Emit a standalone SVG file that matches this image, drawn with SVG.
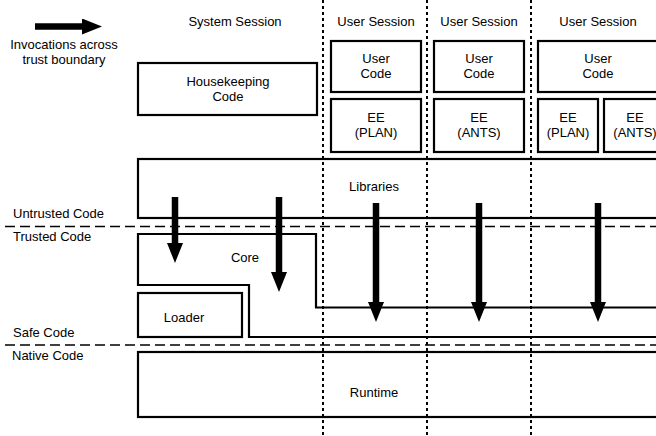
<svg xmlns="http://www.w3.org/2000/svg" width="656" height="436" viewBox="0 0 656 436">
<defs>
<style>
.bg{fill:#ffffff}
.box{fill:none;stroke:#000;stroke-width:2.2}
.dash{fill:none;stroke:#000;stroke-width:1.6;stroke-dasharray:10 5}
.dot{fill:none;stroke:#000;stroke-width:2;stroke-dasharray:3 3}
.arr{fill:none;stroke:#000;stroke-width:6.5;marker-end:url(#head)}
text{font-family:"Liberation Sans",Arial,sans-serif;font-size:13px;fill:#000}
.c{text-anchor:middle}
</style>
<marker id="head" viewBox="0 -8 20 16" refX="0" refY="0" markerWidth="20" markerHeight="16" markerUnits="userSpaceOnUse" orient="auto">
<path d="M0,-8 L20,0 L0,8 Z" fill="#000"/>
</marker>
</defs>
<rect class="bg" x="0" y="0" width="656" height="436"/>

<g id="labels">
<text class="c" x="64" y="49">Invocations across</text>
<text class="c" x="64" y="64">trust boundary</text>
<text class="c" x="235" y="26">System Session</text>
<text class="c" x="376" y="26">User Session</text>
<text class="c" x="479" y="26">User Session</text>
<text class="c" x="598" y="26">User Session</text>
<text x="13" y="218">Untrusted Code</text>
<text x="13" y="241">Trusted Code</text>
<text x="13" y="337">Safe Code</text>
<text x="12" y="360">Native Code</text>
</g>

<g id="boundaries">
<line class="dash" x1="5" y1="226.5" x2="656" y2="226.5"/>
<line class="dash" x1="5" y1="345" x2="656" y2="345"/>
</g>

<g id="housekeeping">
<rect class="box" x="138" y="63" width="179" height="52"/>
<text class="c" x="228" y="86">Housekeeping</text>
<text class="c" x="228" y="101">Code</text>
</g>

<g id="usercode1">
<rect class="box" x="331" y="41" width="90" height="51"/>
<text class="c" x="376" y="63">User</text>
<text class="c" x="376" y="78">Code</text>
</g>
<g id="usercode2">
<rect class="box" x="434" y="41" width="90" height="51"/>
<text class="c" x="479" y="63">User</text>
<text class="c" x="479" y="78">Code</text>
</g>
<g id="usercode3">
<rect class="box" x="538" y="41" width="130" height="51"/>
<text class="c" x="598" y="63">User</text>
<text class="c" x="598" y="78">Code</text>
</g>

<g id="ee1">
<rect class="box" x="331" y="99" width="90" height="53"/>
<text class="c" x="376" y="122">EE</text>
<text class="c" x="376" y="137">(PLAN)</text>
</g>
<g id="ee2">
<rect class="box" x="434" y="99" width="90" height="53"/>
<text class="c" x="479" y="122">EE</text>
<text class="c" x="479" y="137">(ANTS)</text>
</g>
<g id="ee3">
<rect class="box" x="538" y="99" width="60" height="53"/>
<text class="c" x="568" y="122">EE</text>
<text class="c" x="568" y="137">(PLAN)</text>
</g>
<g id="ee4">
<rect class="box" x="604" y="99" width="62" height="53"/>
<text class="c" x="635" y="122">EE</text>
<text class="c" x="635" y="137">(ANTS)</text>
</g>

<g id="libraries">
<rect class="box" x="138" y="159" width="530" height="59"/>
<text class="c" x="374" y="191">Libraries</text>
</g>

<g id="core">
<path class="box" d="M138,234 H316 V307.5 H668 V337 H249 V285 H138 Z"/>
<text class="c" x="245" y="262">Core</text>
</g>

<g id="loader">
<rect class="box" x="138" y="293" width="104" height="44"/>
<text class="c" x="184" y="322">Loader</text>
</g>

<g id="runtime">
<rect class="box" x="138" y="352" width="530" height="65"/>
<text class="c" x="374" y="397">Runtime</text>
</g>

<g id="sessions">
<line class="dot" x1="323" y1="0" x2="323" y2="436"/>
<line class="dot" x1="427" y1="0" x2="427" y2="436"/>
<line class="dot" x1="531" y1="0" x2="531" y2="436"/>
</g>

<g id="connectors">
<line class="arr" x1="35" y1="26.5" x2="82" y2="26.5"/>
<line class="arr" x1="175" y1="197" x2="175" y2="243"/>
<line class="arr" x1="279" y1="197" x2="279" y2="272"/>
<line class="arr" x1="376" y1="203" x2="376" y2="302"/>
<line class="arr" x1="479" y1="203" x2="479" y2="302"/>
<line class="arr" x1="598" y1="203" x2="598" y2="302"/>
</g>
</svg>
